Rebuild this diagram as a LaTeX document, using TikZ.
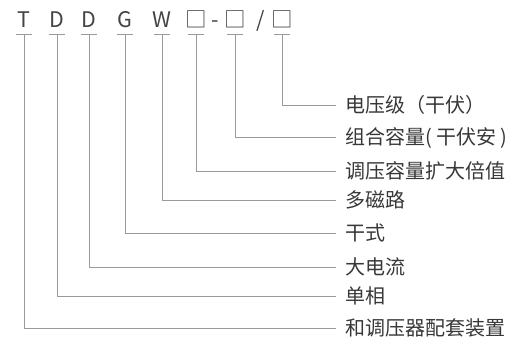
\documentclass[tikz,border=0pt]{standalone}
\usepackage{fontspec}
\newfontfamily\cjk{Noto Sans CJK SC}
\definecolor{txtgray}{HTML}{383838}
\definecolor{letgray}{HTML}{444444}
\definecolor{linegray}{HTML}{9A9A9A}
\begin{document}
\begin{tikzpicture}[x=1pt,y=-1pt,
  letter/.style={font=\cjk\fontsize{21.5pt}{24pt}\selectfont, text=letgray, inner sep=0pt, anchor=base},
  lbl/.style={font=\cjk\fontsize{20pt}{24pt}\selectfont, text=txtgray, inner sep=0pt, anchor=west, text height=15.4pt, text depth=0pt},
  conn/.style={draw=linegray, line width=0.9pt},
  bar/.style={draw=linegray, line width=0.9pt}]
\useasboundingbox (0,0) rectangle (515,344);
% code letters
\node[letter] (c1) at (24,28) {T};
\node[letter] (c2) at (57,28) {D};
\node[letter] (c3) at (89,28) {D};
\node[letter] (c4) at (125,28) {G};
\node[letter] (c5) at (162,28) {W};
\node[letter] (c6) at (196,28) {□};
\node[letter] (d1) at (215,28) {-};
\node[letter] (c7) at (235,28) {□};
\node[letter] (d2) at (261,28) {/};
\node[letter] (c8) at (282,28) {□};
% underline bar points
\coordinate (b1) at (24,34);
\coordinate (b2) at (57,34);
\coordinate (b3) at (89,34);
\coordinate (b4) at (125,34);
\coordinate (b5) at (162,34);
\coordinate (b6) at (196,34);
\coordinate (b7) at (235,34);
\coordinate (b8) at (282,34);
% labels
\node[lbl] (l8) at (345,105) {电压级（干伏）};
\node[lbl] (l7) at (345,137) {组合容量( 干伏安 )};
\node[lbl] (l6) at (345,171) {调压容量扩大倍值};
\node[lbl] (l5) at (345,200) {多磁路};
\node[lbl] (l4) at (345,233) {干式};
\node[lbl] (l3) at (345,267) {大电流};
\node[lbl] (l2) at (345,296) {单相};
\node[lbl] (l1) at (345,328) {和调压器配套装置};
% bars and connectors
\foreach \i in {1,...,8}{
  \draw[bar] ([xshift=-8pt]b\i) -- ([xshift=8pt]b\i);
  \draw[conn] (b\i) |- ([xshift=-9pt]l\i.west);
}
\end{tikzpicture}
\end{document}
